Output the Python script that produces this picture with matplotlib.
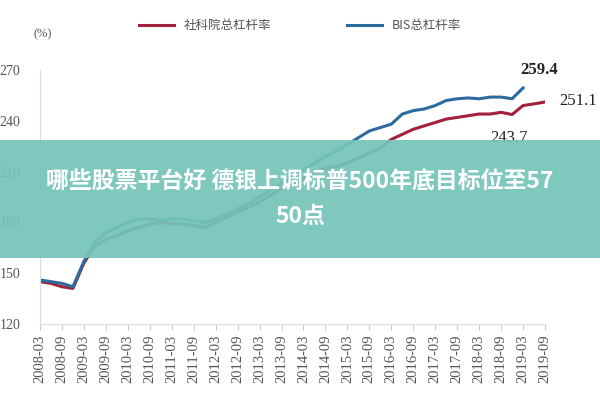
import numpy as np
import matplotlib
matplotlib.use('agg')
import matplotlib.pyplot as plt  # noqa
from matplotlib import font_manager  # noqa
from matplotlib.patches import Rectangle  # noqa

# quarterly data, 2008Q1 onwards
cass_values = [145, 144, 142, 141, 156, 166, 170, 172, 175, 177, 179, 180,
               179, 179, 178, 177, 180, 183, 186, 189, 192, 196, 200, 202,
               206, 209, 212, 213, 215, 218, 221, 224, 229, 232, 235, 237,
               239, 241, 242, 243, 244, 244, 245, 243.7, 249, 250, 251.1]
bis_values = [146, 145, 144, 142, 157, 168, 174, 177, 180, 182, 182, 181,
              182, 182, 181, 180, 182, 185, 188, 191, 195, 199, 203, 206,
              211, 215, 219, 222, 226, 230, 234, 236, 238, 244, 246, 247,
              249, 252, 253, 253.5, 253, 254, 254, 253, 259.4]
tick_labels = ['2008-03', '2008-09', '2009-03', '2009-09', '2010-03',
               '2010-09', '2011-03', '2011-09', '2012-03', '2012-09',
               '2013-03', '2013-09', '2014-03', '2014-09', '2015-03',
               '2015-09', '2016-03', '2016-09', '2017-03', '2017-09',
               '2018-03', '2018-09', '2019-03', '2019-09']
y_ticks = [120, 150, 180, 210, 240, 270]
series_names = ['社科院总杠杆率', 'BIS总杠杆率']
banner_text = '哪些股票平台好 德银上调标普500年底目标位至57\n50点'

# find a CJK font file actually known to matplotlib
cjk = None
for f in font_manager.findSystemFonts():
    if 'NotoSansCJK' in f.replace(' ', '') or 'NotoSansSC' in f:
        cjk = f
        if 'Bold' in f:
            break
cjk_name = 'Noto Sans CJK SC'
if cjk:
    font_manager.fontManager.addfont(cjk)
    cjk_name = font_manager.FontProperties(fname=cjk).get_name()

red = '#a3213a'
blue = '#2d6aa0'
grey = '#555555'

fig = plt.figure(figsize=(6, 4), dpi=100)
ax = fig.add_axes([40 / 600, 1 - 324 / 400, 505 / 600, 254 / 400])

ax.plot(np.arange(len(cass_values)), cass_values, color=red, lw=2.2,
        label=series_names[0])
ax.plot(np.arange(len(bis_values)), bis_values, color=blue, lw=2.2,
        label=series_names[1])

ax.set_xlim(0, 46)
ax.set_ylim(120, 270)
ax.set_xticks(np.arange(0, 47, 2))
ax.set_xticklabels(tick_labels, rotation=90, fontsize=10.5,
                   family='Liberation Serif', color=grey)
ax.set_yticks(y_ticks)
ax.set_yticklabels([str(v) for v in y_ticks], fontsize=10,
                   family='Liberation Serif', color=grey)
for s in ['top', 'right']:
    ax.spines[s].set_visible(False)
for s in ['left', 'bottom']:
    ax.spines[s].set_color('#dddddd')
ax.tick_params(axis='y', length=0, pad=14)
ax.tick_params(axis='x', length=4, color='#cccccc')

ax.annotate('259.4', (len(bis_values) - 1, bis_values[-1]),
            xytext=(-2, 10), textcoords='offset points', fontsize=12,
            family='Liberation Serif', fontweight='bold', color='#222222')
ax.annotate('251.1', (len(cass_values) - 1, cass_values[-1]),
            xytext=(10, -2), textcoords='offset points', fontsize=12,
            family='Liberation Serif', color='#222222')
ax.annotate('243.7', (43, 243.7), xytext=(-16, -20),
            textcoords='offset points', fontsize=12,
            family='Liberation Serif', color='#222222')

fig.text(33 / 600, 1 - 37 / 400, '(%)', fontsize=9,
         family='Liberation Serif', color=grey)
leg = fig.legend(loc='upper center', bbox_to_anchor=(0.5, 0.98), ncol=2,
                 frameon=False, columnspacing=6, handlelength=2.8,
                 prop={'family': cjk_name, 'size': 9})
for t in leg.get_texts():
    t.set_color(grey)

fig.patches.append(Rectangle((0, 1 - 258 / 400), 1, 118 / 400,
                             transform=fig.transFigure,
                             facecolor='#74c4b9', alpha=0.93, zorder=5))
fig.text(0.5, 1 - 199 / 400, banner_text, ha='center', va='center',
         fontsize=16.5, fontweight='bold', color='white',
         family=cjk_name, linespacing=1.6, zorder=6)

fig.savefig('out.png', dpi=100)
